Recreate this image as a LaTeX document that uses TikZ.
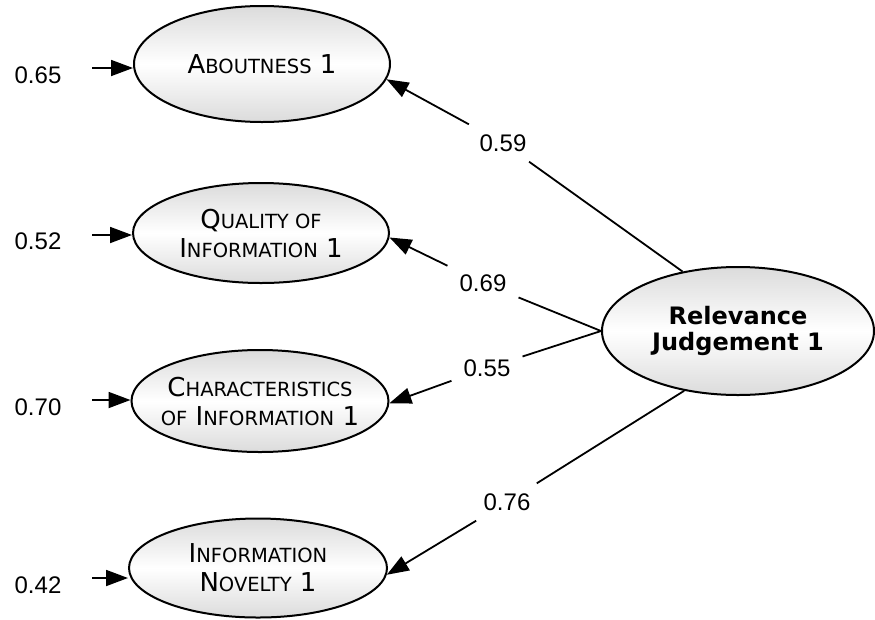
\documentclass[tikz,border=0pt]{standalone}
\usepackage{fontspec}
\setmainfont{Liberation Sans}
\newfontfamily\labelfont{DejaVu Sans}
\usetikzlibrary{shapes.geometric,arrows.meta}
% reduced-size capitals for the small-caps construct labels
\newcommand\scsm[1]{{\fontsize{19.5}{29}\selectfont #1}}

\begin{document}
\begin{tikzpicture}[x=1pt,y=-1pt,
  latent/.style={ellipse, draw, line width=2pt, inner sep=-12pt,
    top color=gray!28, bottom color=gray!28, middle color=white,
    align=center, font=\labelfont\fontsize{26}{29}\selectfont},
  coef/.style={font=\fontsize{24}{26}\selectfont, inner xsep=12pt, inner ysep=10pt},
  err/.style={font=\fontsize{24}{26}\selectfont, inner sep=0pt},
  link/.style={line width=1.8pt},
  load/.style={link, -{Triangle[length=22pt,width=16pt]}},
]
\useasboundingbox (0,0) rectangle (875,619);

% measured constructs
\node[latent, minimum width=256pt, minimum height=116pt] (abo) at (262,64)
  {A\scsm{BOUTNESS} 1};
\node[latent, minimum width=256pt, minimum height=100pt] (qual) at (261,233)
  {Q\scsm{UALITY OF}\\I\scsm{NFORMATION} 1};
\node[latent, minimum width=257pt, minimum height=102pt] (char) at (260,401)
  {C\scsm{HARACTERISTICS}\\\scsm{OF} I\scsm{NFORMATION} 1};
\node[latent, minimum width=258pt, minimum height=99pt] (nov) at (258,568)
  {I\scsm{NFORMATION}\\N\scsm{OVELTY} 1};

% latent factor
\node[latent, minimum width=272pt, minimum height=128pt,
  font=\labelfont\bfseries\fontsize{24}{26}\selectfont] (rel) at (738,331)
  {Relevance\\Judgement 1};

% error terms
\node[err] (e1) at (38,75) {0.65};
\node[err] (e2) at (38,241) {0.52};
\node[err] (e3) at (38,407) {0.70};
\node[err] (e4) at (38,585) {0.42};
\coordinate (a1) at (92,68);
\coordinate (a2) at (92,235);
\coordinate (a3) at (92,400);
\coordinate (a4) at (92,578);
\draw[load] (a1) -- (a1 -| abo.west);
\draw[load] (a2) -- (a2 -| qual.west);
\draw[load] (a3) -- (a3 -| char.west);
\draw[load] (a4) -- (a4 -| nov.west);

% factor loadings
\node[coef] (c1) at (503,143) {0.59};
\node[coef] (c2) at (483,283) {0.69};
\node[coef] (c3) at (487,368) {0.55};
\node[coef] (c4) at (507,502) {0.76};

\draw[link] (rel.133) -- (c1);
\draw[load] (c1) -- (abo.-7);
\draw[link] (rel.west) -- (c2);
\draw[load] (c2) -- (qual.-2);
\draw[link] (rel.west) -- (c3);
\draw[load] (c3) -- (char.-1);
\draw[link] (rel.228) -- (c4);
\draw[load] (c4) -- (nov.-3);
\end{tikzpicture}
\end{document}
